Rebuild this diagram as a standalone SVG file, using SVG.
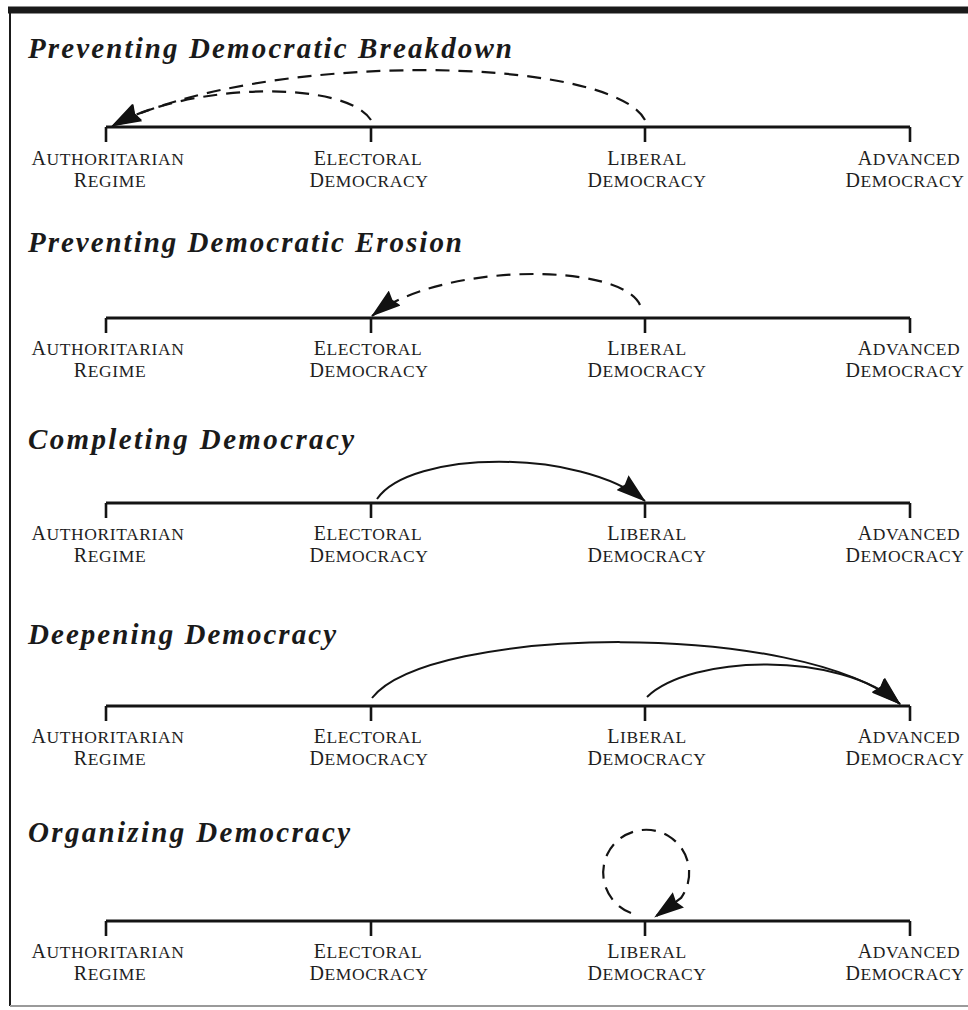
<svg xmlns="http://www.w3.org/2000/svg" width="968" height="1010" viewBox="0 0 968 1010">
<style>
.tt{font-family:"Liberation Serif","Times New Roman",serif;font-style:italic;font-weight:bold;font-size:29px;fill:#1a1a1a}
.lb{font-family:"Liberation Serif","Times New Roman",serif;font-size:17.5px;letter-spacing:0.6px;fill:#1e1e1e;text-anchor:middle}
.cap{font-size:20px}
.axis{stroke:#141414;stroke-width:3;fill:none}
.tick{stroke:#141414;stroke-width:2.6;fill:none}
.solid{stroke:#141414;stroke-width:2;fill:none}
.dash{stroke:#141414;stroke-width:2.2;fill:none;stroke-dasharray:14 9}
.frame{stroke:#1a1a1a;fill:none}
</style>
<defs>
<marker id="ah" viewBox="0 0 30 19" refX="29" refY="9.5" markerWidth="30" markerHeight="19" markerUnits="userSpaceOnUse" orient="auto">
<path d="M0,0 L30,9.5 L0,19 L3,9.5 z" fill="#111" stroke="none"/>
</marker>
</defs>
<rect width="968" height="1010" fill="#ffffff"/>
<g id="frame">
<line class="frame" x1="8" y1="10" x2="968" y2="10" stroke-width="7"/>
<line class="frame" x1="10" y1="10" x2="10" y2="1006" stroke-width="2"/>
<line x1="10" y1="1006" x2="968" y2="1006" stroke="#9a9a9a" stroke-width="2"/>
</g>

<!-- Section 1 -->
<g id="sec1">
<text class="tt" x="28" y="58" textLength="484" lengthAdjust="spacing">Preventing Democratic Breakdown</text>
<line class="axis" x1="106" y1="127" x2="910" y2="127"/>
<g id="s1-authoritarian"><line class="tick" x1="106" y1="127" x2="106" y2="142"/><text class="lb" x="108" y="165"><tspan class="cap">A</tspan>UTHORITARIAN</text><text class="lb" x="110" y="187"><tspan class="cap">R</tspan>EGIME</text></g>
<g id="s1-electoral"><line class="tick" x1="371" y1="127" x2="371" y2="142"/><text class="lb" x="368" y="165"><tspan class="cap">E</tspan>LECTORAL</text><text class="lb" x="369" y="187"><tspan class="cap">D</tspan>EMOCRACY</text></g>
<g id="s1-liberal"><line class="tick" x1="645" y1="127" x2="645" y2="142"/><text class="lb" x="647" y="165"><tspan class="cap">L</tspan>IBERAL</text><text class="lb" x="647" y="187"><tspan class="cap">D</tspan>EMOCRACY</text></g>
<g id="s1-advanced"><line class="tick" x1="910" y1="127" x2="910" y2="142"/><text class="lb" x="909" y="165"><tspan class="cap">A</tspan>DVANCED</text><text class="lb" x="905" y="187"><tspan class="cap">D</tspan>EMOCRACY</text></g>
</g>

<!-- Section 2 -->
<g id="sec2">
<text class="tt" x="28" y="252" textLength="434" lengthAdjust="spacing">Preventing Democratic Erosion</text>
<line class="axis" x1="106" y1="318" x2="910" y2="318"/>
<g id="s2-authoritarian"><line class="tick" x1="106" y1="318" x2="106" y2="333"/><text class="lb" x="108" y="355"><tspan class="cap">A</tspan>UTHORITARIAN</text><text class="lb" x="110" y="377"><tspan class="cap">R</tspan>EGIME</text></g>
<g id="s2-electoral"><line class="tick" x1="371" y1="318" x2="371" y2="333"/><text class="lb" x="368" y="355"><tspan class="cap">E</tspan>LECTORAL</text><text class="lb" x="369" y="377"><tspan class="cap">D</tspan>EMOCRACY</text></g>
<g id="s2-liberal"><line class="tick" x1="645" y1="318" x2="645" y2="333"/><text class="lb" x="647" y="355"><tspan class="cap">L</tspan>IBERAL</text><text class="lb" x="647" y="377"><tspan class="cap">D</tspan>EMOCRACY</text></g>
<g id="s2-advanced"><line class="tick" x1="910" y1="318" x2="910" y2="333"/><text class="lb" x="909" y="355"><tspan class="cap">A</tspan>DVANCED</text><text class="lb" x="905" y="377"><tspan class="cap">D</tspan>EMOCRACY</text></g>
</g>

<!-- Section 3 -->
<g id="sec3">
<text class="tt" x="28" y="449" textLength="326" lengthAdjust="spacing">Completing Democracy</text>
<line class="axis" x1="106" y1="503" x2="910" y2="503"/>
<g id="s3-authoritarian"><line class="tick" x1="106" y1="503" x2="106" y2="518"/><text class="lb" x="108" y="540"><tspan class="cap">A</tspan>UTHORITARIAN</text><text class="lb" x="110" y="562"><tspan class="cap">R</tspan>EGIME</text></g>
<g id="s3-electoral"><line class="tick" x1="371" y1="503" x2="371" y2="518"/><text class="lb" x="368" y="540"><tspan class="cap">E</tspan>LECTORAL</text><text class="lb" x="369" y="562"><tspan class="cap">D</tspan>EMOCRACY</text></g>
<g id="s3-liberal"><line class="tick" x1="645" y1="503" x2="645" y2="518"/><text class="lb" x="647" y="540"><tspan class="cap">L</tspan>IBERAL</text><text class="lb" x="647" y="562"><tspan class="cap">D</tspan>EMOCRACY</text></g>
<g id="s3-advanced"><line class="tick" x1="910" y1="503" x2="910" y2="518"/><text class="lb" x="909" y="540"><tspan class="cap">A</tspan>DVANCED</text><text class="lb" x="905" y="562"><tspan class="cap">D</tspan>EMOCRACY</text></g>
</g>

<!-- Section 4 -->
<g id="sec4">
<text class="tt" x="28" y="644" textLength="308" lengthAdjust="spacing">Deepening Democracy</text>
<line class="axis" x1="106" y1="706" x2="910" y2="706"/>
<g id="s4-authoritarian"><line class="tick" x1="106" y1="706" x2="106" y2="721"/><text class="lb" x="108" y="743"><tspan class="cap">A</tspan>UTHORITARIAN</text><text class="lb" x="110" y="765"><tspan class="cap">R</tspan>EGIME</text></g>
<g id="s4-electoral"><line class="tick" x1="371" y1="706" x2="371" y2="721"/><text class="lb" x="368" y="743"><tspan class="cap">E</tspan>LECTORAL</text><text class="lb" x="369" y="765"><tspan class="cap">D</tspan>EMOCRACY</text></g>
<g id="s4-liberal"><line class="tick" x1="645" y1="706" x2="645" y2="721"/><text class="lb" x="647" y="743"><tspan class="cap">L</tspan>IBERAL</text><text class="lb" x="647" y="765"><tspan class="cap">D</tspan>EMOCRACY</text></g>
<g id="s4-advanced"><line class="tick" x1="910" y1="706" x2="910" y2="721"/><text class="lb" x="909" y="743"><tspan class="cap">A</tspan>DVANCED</text><text class="lb" x="905" y="765"><tspan class="cap">D</tspan>EMOCRACY</text></g>
</g>

<!-- Section 5 -->
<g id="sec5">
<text class="tt" x="28" y="842" textLength="322" lengthAdjust="spacing">Organizing Democracy</text>
<line class="axis" x1="106" y1="921" x2="910" y2="921"/>
<g id="s5-authoritarian"><line class="tick" x1="106" y1="921" x2="106" y2="936"/><text class="lb" x="108" y="958"><tspan class="cap">A</tspan>UTHORITARIAN</text><text class="lb" x="110" y="980"><tspan class="cap">R</tspan>EGIME</text></g>
<g id="s5-electoral"><line class="tick" x1="371" y1="921" x2="371" y2="936"/><text class="lb" x="368" y="958"><tspan class="cap">E</tspan>LECTORAL</text><text class="lb" x="369" y="980"><tspan class="cap">D</tspan>EMOCRACY</text></g>
<g id="s5-liberal"><line class="tick" x1="645" y1="921" x2="645" y2="936"/><text class="lb" x="647" y="958"><tspan class="cap">L</tspan>IBERAL</text><text class="lb" x="647" y="980"><tspan class="cap">D</tspan>EMOCRACY</text></g>
<g id="s5-advanced"><line class="tick" x1="910" y1="921" x2="910" y2="936"/><text class="lb" x="909" y="958"><tspan class="cap">A</tspan>DVANCED</text><text class="lb" x="905" y="980"><tspan class="cap">D</tspan>EMOCRACY</text></g>
</g>

<g id="connectors">
<path class="dash" d="M645,120 C610,55 260,50 112,126" marker-end="url(#ah)"/>
<path class="dash" d="M371,120 C345,80 190,82 112,126" marker-end="url(#ah)"/>
<path class="dash" d="M640,305 C620,262 440,262 372,316" marker-end="url(#ah)"/>
<path class="solid" d="M377,499 C410,450 580,448 645,501" marker-end="url(#ah)"/>
<path class="solid" d="M372,698 C430,625 800,620 900,704" marker-end="url(#ah)"/>
<path class="solid" d="M647,697 C690,655 840,650 900,704" marker-end="url(#ah)"/>
<path class="dash" d="M631,913 A43,43 0 1 1 681,898 L655,917" marker-end="url(#ah)"/>
</g>
</svg>
